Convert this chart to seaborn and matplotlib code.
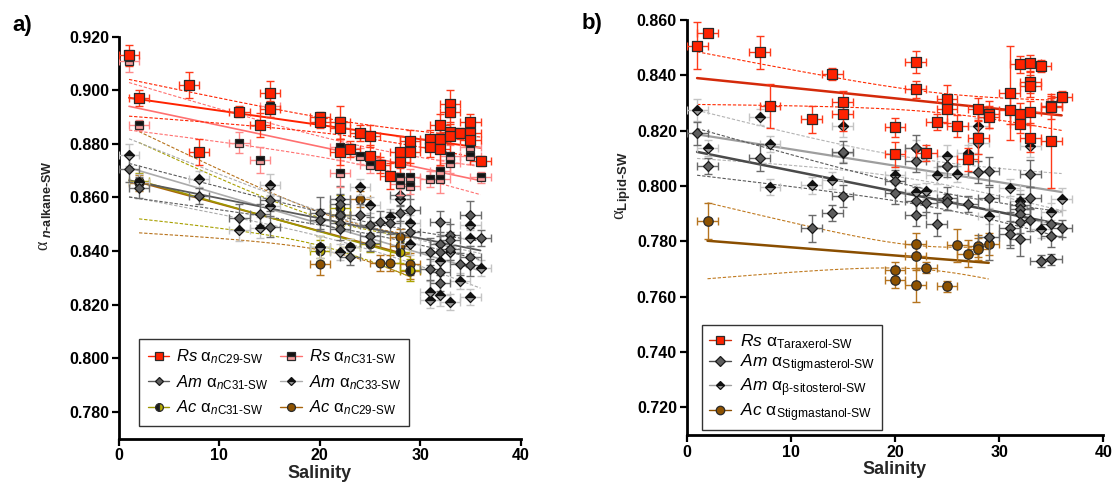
import numpy as np
import pandas as pd
import matplotlib
matplotlib.use("Agg")
import matplotlib.pyplot as plt
from matplotlib.lines import Line2D
from matplotlib.ticker import FormatStrFormatter
import seaborn as sns

# ---------------------------------------------------------------------------
# Panel a: n-alkane / water fractionation factors against salinity
# ---------------------------------------------------------------------------
rs_c29_sal = [1, 2, 7, 8, 12, 14, 15, 15, 20, 20, 22, 22, 22, 23, 24, 25, 25, 26, 27,
              28, 28, 29, 29, 31, 31, 32, 32, 32, 33, 33, 33, 33, 34, 35, 35, 35, 36]
rs_c29_val = [0.913, 0.897, 0.902, 0.877, 0.892, 0.887, 0.899, 0.893, 0.890, 0.888,
              0.888, 0.886, 0.877, 0.878, 0.884, 0.883, 0.8755, 0.872, 0.868, 0.877,
              0.8734, 0.881, 0.877, 0.882, 0.879, 0.887, 0.882, 0.878, 0.895, 0.892,
              0.8846, 0.883, 0.884, 0.888, 0.884, 0.8815, 0.8736]
rs_c29_err = [0.004, 0.003, 0.005, 0.005, 0.002, 0.0045, 0.0045, 0.003, 0.002, 0.002,
              0.006, 0.004, 0.005, 0.003, 0.003, 0.004, 0.004, 0.003, 0.005, 0.006,
              0.005, 0.004, 0.004, 0.003, 0.004, 0.004, 0.004, 0.006, 0.005, 0.004,
              0.003, 0.003, 0.002, 0.003, 0.003, 0.003, 0.002]

rs_c31_sal = [1, 2, 12, 14, 15, 22, 22, 24, 25, 28, 28, 29, 29, 31, 32, 32, 33, 33, 35, 35, 36]
rs_c31_val = [0.911, 0.887, 0.8805, 0.874, 0.894, 0.879, 0.869, 0.8756, 0.872, 0.8675,
              0.865, 0.8675, 0.8643, 0.867, 0.870, 0.8668, 0.8756, 0.873, 0.8787, 0.8756,
              0.8675]
rs_c31_err = [0.004, 0.002, 0.004, 0.005, 0.004, 0.003, 0.005, 0.003, 0.003, 0.004,
              0.004, 0.003, 0.003, 0.003, 0.004, 0.005, 0.004, 0.004, 0.003, 0.003, 0.002]

am_c31_sal = [1, 2, 8, 12, 14, 15, 15, 20, 20, 22, 22, 22, 22, 22, 23, 24, 25, 25, 25, 26,
              27, 28, 28, 29, 29, 31, 31, 32, 32, 32, 32, 32, 33, 33, 33, 34, 35, 35, 35, 36]
am_c31_val = [0.8706, 0.8637, 0.8605, 0.8525, 0.8537, 0.8591, 0.8491, 0.8543, 0.8516, 0.8593,
              0.8574, 0.8535, 0.8504, 0.8483, 0.8379, 0.8535, 0.8497, 0.8457, 0.8431, 0.8510,
              0.8504, 0.8609, 0.8543, 0.8553, 0.8472, 0.8398, 0.8332, 0.8510, 0.8426, 0.8398,
              0.8323, 0.8280, 0.8460, 0.8442, 0.8407, 0.8352, 0.8535, 0.8379, 0.8348, 0.8450]
am_c31_err = [0.005, 0.004, 0.003, 0.005, 0.004, 0.004, 0.004, 0.006, 0.004, 0.005,
              0.004, 0.004, 0.003, 0.004, 0.003, 0.004, 0.003, 0.003, 0.003, 0.004,
              0.004, 0.004, 0.003, 0.004, 0.004, 0.005, 0.004, 0.004, 0.003, 0.004,
              0.004, 0.003, 0.004, 0.003, 0.004, 0.004, 0.005, 0.004, 0.004, 0.003]

am_c33_sal = [1, 2, 8, 12, 14, 15, 15, 20, 22, 23, 24, 25, 27, 28, 29, 29, 31, 31, 32, 32,
              33, 33, 34, 35, 35, 35, 36]
am_c33_val = [0.8759, 0.8657, 0.8669, 0.8479, 0.8487, 0.8647, 0.8568, 0.8416, 0.8396, 0.8416,
              0.8640, 0.8572, 0.8526, 0.8593, 0.8504, 0.8425, 0.8249, 0.8218, 0.8363, 0.8236,
              0.8398, 0.8211, 0.8290, 0.8497, 0.8450, 0.8230, 0.8336]
am_c33_err = [0.004, 0.003, 0.003, 0.004, 0.004, 0.004, 0.004, 0.004, 0.003, 0.003,
              0.003, 0.003, 0.003, 0.004, 0.003, 0.004, 0.004, 0.003, 0.004, 0.004,
              0.003, 0.003, 0.003, 0.004, 0.003, 0.003, 0.003]

ac_c31_sal = [2, 20, 20, 22, 22, 23, 25, 28, 29]
ac_c31_val = [0.866, 0.8416, 0.8402, 0.8560, 0.8535, 0.8416, 0.8426, 0.8395, 0.8330]
ac_c31_err = [0.003, 0.004, 0.004, 0.005, 0.004, 0.003, 0.003, 0.004, 0.004]

ac_c29_sal = [2, 20, 22, 24, 26, 27, 28, 28, 29, 29]
ac_c29_val = [0.8655, 0.8351, 0.8535, 0.8594, 0.8354, 0.8354, 0.8451, 0.8420, 0.8351, 0.8327]
ac_c29_err = [0.003, 0.004, 0.004, 0.003, 0.003, 0.003, 0.003, 0.003, 0.004, 0.003]

# ---------------------------------------------------------------------------
# Panel b: sterol / triterpenol / water fractionation factors against salinity
# ---------------------------------------------------------------------------
rs_tar_sal = [1, 2, 7, 8, 12, 14, 15, 15, 20, 20, 22, 22, 23, 24, 25, 25, 26, 27, 28, 28,
              29, 29, 31, 31, 32, 32, 32, 33, 33, 33, 33, 33, 34, 35, 35, 35, 36]
rs_tar_val = [0.8507, 0.8552, 0.8483, 0.8290, 0.8241, 0.8405, 0.8305, 0.8260, 0.8212, 0.8114,
              0.8449, 0.8350, 0.8120, 0.8232, 0.8314, 0.8278, 0.8217, 0.8096, 0.8278, 0.8174,
              0.8259, 0.8250, 0.8335, 0.8276, 0.8440, 0.8260, 0.8223, 0.8443, 0.8377, 0.8362,
              0.8268, 0.8172, 0.8434, 0.8289, 0.8284, 0.8164, 0.8323]
rs_tar_err = [0.0085, 0.0015, 0.006, 0.008, 0.005, 0.002, 0.004, 0.006, 0.0035, 0.0045,
              0.004, 0.003, 0.003, 0.003, 0.005, 0.005, 0.004, 0.004, 0.004, 0.006,
              0.005, 0.004, 0.017, 0.005, 0.003, 0.004, 0.003, 0.003, 0.004, 0.004,
              0.004, 0.005, 0.002, 0.003, 0.004, 0.017, 0.002]

am_stig_sal = [1, 2, 7, 12, 14, 15, 15, 20, 20, 22, 22, 22, 22, 23, 24, 25, 25, 25, 27, 28,
               29, 29, 29, 31, 31, 32, 32, 32, 32, 32, 33, 33, 33, 34, 35, 35, 35, 36]
am_stig_val = [0.8190, 0.8072, 0.8103, 0.7847, 0.7903, 0.8124, 0.7963, 0.8019, 0.7975, 0.8136,
               0.8091, 0.7945, 0.7897, 0.7937, 0.7861, 0.8073, 0.7955, 0.7943, 0.7935, 0.8051,
               0.8055, 0.7955, 0.7814, 0.7847, 0.7825, 0.7931, 0.7918, 0.7900, 0.7870, 0.7807,
               0.8045, 0.7957, 0.7879, 0.7729, 0.7862, 0.7819, 0.7736, 0.7847]
am_stig_err = [0.004, 0.003, 0.005, 0.005, 0.003, 0.004, 0.004, 0.004, 0.004, 0.005,
               0.004, 0.005, 0.004, 0.003, 0.004, 0.004, 0.004, 0.003, 0.003, 0.004,
               0.005, 0.004, 0.008, 0.006, 0.005, 0.004, 0.004, 0.004, 0.004, 0.006,
               0.005, 0.004, 0.004, 0.002, 0.005, 0.004, 0.002, 0.003]

am_sito_sal = [1, 2, 7, 8, 8, 12, 14, 15, 15, 20, 22, 22, 23, 24, 25, 25, 26, 27, 28, 28,
               29, 31, 32, 33, 34, 35, 36]
am_sito_val = [0.8275, 0.8138, 0.8250, 0.8152, 0.7997, 0.8003, 0.8021, 0.8217, 0.8118, 0.8039,
               0.8136, 0.7979, 0.7982, 0.8039, 0.8108, 0.8072, 0.8043, 0.8118, 0.8217, 0.8156,
               0.7891, 0.7994, 0.7945, 0.8144, 0.7843, 0.7907, 0.7952]
am_sito_err = [0.004, 0.003, 0.003, 0.003, 0.003, 0.003, 0.003, 0.004, 0.003, 0.003,
               0.003, 0.003, 0.003, 0.003, 0.004, 0.003, 0.003, 0.003, 0.003, 0.004,
               0.003, 0.003, 0.004, 0.004, 0.003, 0.003, 0.004]

ac_stan_sal = [2, 20, 20, 22, 22, 22, 23, 25, 26, 27, 28, 28, 29]
ac_stan_val = [0.7873, 0.7696, 0.7660, 0.7790, 0.7746, 0.7642, 0.7704, 0.7638, 0.7786, 0.7756,
               0.7783, 0.7772, 0.7790]
ac_stan_err = [0.0065, 0.003, 0.003, 0.004, 0.005, 0.006, 0.002, 0.002, 0.006, 0.005,
               0.004, 0.004, 0.004]

SAL_ERR = 1.0   # salinity uncertainty (horizontal error bars)

# ---------------------------------------------------------------------------
sns.set_theme(style="ticks")
plt.rcParams.update({
    "font.family": ["Liberation Sans", "DejaVu Sans"],
    "mathtext.fontset": "custom",
    "mathtext.rm": "Liberation Sans:weight=normal",
    "mathtext.it": "Liberation Sans:style=italic:weight=normal",
    "mathtext.bf": "Liberation Sans:weight=bold",
    "mathtext.sf": "Liberation Serif:weight=normal",
    "mathtext.tt": "Liberation Sans:style=italic:weight=bold",
    "axes.edgecolor": "black",
    "xtick.color": "black",
    "ytick.color": "black",
    "text.color": "black",
})


def t95(df):
    """Two-sided 95 % Student-t quantile (Cornish-Fisher expansion)."""
    z = 1.959964
    return z + (z ** 3 + z) / (4 * df) + (5 * z ** 5 + 16 * z ** 3 + 3 * z) / (96 * df ** 2)


def regression_band(sal, val):
    x = np.asarray(sal, float)
    y = np.asarray(val, float)
    slope, icpt = np.polyfit(x, y, 1)
    grid = np.linspace(x.min(), x.max(), 150)
    pred = icpt + slope * grid
    n = x.size
    s = np.sqrt(np.sum((y - (icpt + slope * x)) ** 2) / (n - 2))
    se = s * np.sqrt(1.0 / n + (grid - x.mean()) ** 2 / np.sum((x - x.mean()) ** 2))
    half = t95(n - 2) * se
    return pd.DataFrame({"sal": grid, "fit": pred, "lo": pred - half, "hi": pred + half})


def draw_series(ax, sal, val, err, st, z):
    band = regression_band(sal, val)
    sns.lineplot(data=band, x="sal", y="fit", color=st["line"], linewidth=st["lw"],
                 estimator=None, sort=False, ax=ax, zorder=2)
    for col in ("lo", "hi"):
        sns.lineplot(data=band, x="sal", y=col, color=st["ci"], linewidth=0.8,
                     linestyle=(0, (3, 1.6)), estimator=None, sort=False, ax=ax, zorder=2)
    ax.errorbar(sal, val, xerr=SAL_ERR, yerr=err, fmt="none", ecolor=st["err"],
                elinewidth=1.0, capsize=2.6, capthick=1.0, zorder=z)
    if st.get("alt"):
        ax.plot(sal, val, ls="none", marker=st["marker"], ms=st["ms"], fillstyle=st["fill"],
                mfc=st["face"], mfcalt=st["alt"], mec=st["edge"], mew=0.9, zorder=z + 0.5)
    else:
        sns.scatterplot(x=sal, y=val, marker=st["marker"], s=st["s"], color=st["face"],
                        edgecolor=st["edge"], linewidth=0.9, ax=ax, zorder=z + 0.5, legend=False)


def handle(st):
    kw = dict(color=st["line"], lw=1.0, marker=st["marker"], mec=st["edge"], mew=0.9)
    if st.get("alt"):
        kw.update(ms=st["ms"] * 0.9, fillstyle=st["fill"], mfc=st["face"], mfcalt=st["alt"])
    else:
        kw.update(ms=np.sqrt(st["s"]) * 0.9, mfc=st["face"])
    return Line2D([], [], **kw)


def style_axes(ax, ylim, yticks):
    ax.set_xlim(0, 40)
    ax.set_ylim(*ylim)
    ax.set_xticks([0, 10, 20, 30, 40])
    ax.set_yticks(yticks)
    ax.yaxis.set_major_formatter(FormatStrFormatter("%.3f"))
    sns.despine(ax=ax)
    for side in ("left", "bottom"):
        ax.spines[side].set_linewidth(2.0)
        ax.spines[side].set_color("black")
    ax.tick_params(direction="out", length=5, width=1.6, labelsize=11.5, pad=2)
    for lab in ax.get_xticklabels() + ax.get_yticklabels():
        lab.set_fontweight("bold")
    ax.set_xlabel("Salinity", fontsize=13, fontweight="bold", labelpad=1)


st_rs29 = dict(line="#FF2200", ci="#FF2200", err="#FF3A1A", marker="s", s=42, face="#FF2200", edge="#2a2a2a", lw=1.4)
st_rs31 = dict(line="#FF7070", ci="#FF7070", err="#FF8A8A", marker="s", ms=6.4, fill="top", face="#111111", alt="#F59A9A", edge="#2a2a2a", lw=1.2)
st_am31 = dict(line="#5A5A5A", ci="#5A5A5A", err="#6E6E6E", marker="D", s=24, face="#5E5E5E", edge="#1a1a1a", lw=1.3)
st_am33 = dict(line="#ABABAB", ci="#ABABAB", err="#C4C4C4", marker="D", ms=4.8, fill="top", face="#111111", alt="#9A9A9A", edge="#111111", lw=1.2)
st_ac31 = dict(line="#9E9600", ci="#A8A000", err="#ABA200", marker="o", ms=6.2, fill="left", face="#1a1a1a", alt="#B8AC00", edge="#2a2a2a", lw=1.2)
st_ac29 = dict(line="#A8640C", ci="#B8731C", err="#B5741F", marker="o", s=40, face="#8E5200", edge="#2a2a2a", lw=1.3)

st_tar = dict(line="#D42A0A", ci="#FF2A00", err="#FF3A1A", marker="s", s=46, face="#FF2200", edge="#2a2a2a", lw=1.8)
st_stig = dict(line="#4A4A4A", ci="#5A5A5A", err="#6A6A6A", marker="D", s=26, face="#5E5E5E", edge="#1a1a1a", lw=1.8)
st_sito = dict(line="#9E9E9E", ci="#B4B4B4", err="#C4C4C4", marker="D", ms=5.0, fill="top", face="#111111", alt="#9A9A9A", edge="#111111", lw=1.6)
st_stan = dict(line="#8A4E00", ci="#C07A20", err="#B5741F", marker="o", s=46, face="#8E5200", edge="#2a2a2a", lw=1.8)

fig = plt.figure(figsize=(11.14, 4.87), dpi=100)
ax_a = fig.add_axes([0.1068, 0.0992, 0.3606, 0.8255])
ax_b = fig.add_axes([0.6164, 0.1068, 0.3740, 0.8520])

# ----- panel a -----
draw_series(ax_a, ac_c29_sal, ac_c29_val, ac_c29_err, st_ac29, 3)
draw_series(ax_a, ac_c31_sal, ac_c31_val, ac_c31_err, st_ac31, 3.2)
draw_series(ax_a, am_c33_sal, am_c33_val, am_c33_err, st_am33, 4)
draw_series(ax_a, am_c31_sal, am_c31_val, am_c31_err, st_am31, 4.2)
draw_series(ax_a, rs_c31_sal, rs_c31_val, rs_c31_err, st_rs31, 5)
draw_series(ax_a, rs_c29_sal, rs_c29_val, rs_c29_err, st_rs29, 5.2)
style_axes(ax_a, (0.770, 0.920), np.arange(0.78, 0.9201, 0.02))
ax_a.set_ylabel(r"$\mathsf{\alpha}_{\ \mathtt{n}\mathbf{‐alkane‐SW}}$", fontsize=13)
ax_a.yaxis.set_label_coords(-0.165, 0.58)

lab_a = [r"$\mathit{Rs}\ \mathrm{\alpha}_{\mathit{n}\mathrm{C29‐SW}}$",
         r"$\mathit{Am}\ \mathrm{\alpha}_{\mathit{n}\mathrm{C31‐SW}}$",
         r"$\mathit{Ac}\ \mathrm{\alpha}_{\mathit{n}\mathrm{C31‐SW}}$",
         r"$\mathit{Rs}\ \mathrm{\alpha}_{\mathit{n}\mathrm{C31‐SW}}$",
         r"$\mathit{Am}\ \mathrm{\alpha}_{\mathit{n}\mathrm{C33‐SW}}$",
         r"$\mathit{Ac}\ \mathrm{\alpha}_{\mathit{n}\mathrm{C29‐SW}}$"]
hnd_a = [handle(s) for s in (st_rs29, st_am31, st_ac31, st_rs31, st_am33, st_ac29)]
leg_a = ax_a.legend(hnd_a, lab_a, loc="lower left", bbox_to_anchor=(0.03, 0.012), ncol=2,
                    fontsize=12, frameon=True, fancybox=False, framealpha=1,
                    edgecolor="#333333", handlelength=1.3, handletextpad=0.4,
                    columnspacing=0.7, labelspacing=0.4, borderpad=0.5)
leg_a.get_frame().set_linewidth(1.0)

# ----- panel b -----
draw_series(ax_b, ac_stan_sal, ac_stan_val, ac_stan_err, st_stan, 3)
draw_series(ax_b, am_sito_sal, am_sito_val, am_sito_err, st_sito, 4)
draw_series(ax_b, am_stig_sal, am_stig_val, am_stig_err, st_stig, 4.2)
draw_series(ax_b, rs_tar_sal, rs_tar_val, rs_tar_err, st_tar, 5)
style_axes(ax_b, (0.710, 0.860), np.arange(0.72, 0.8601, 0.02))
ax_b.set_ylabel(r"$\mathsf{\alpha}_{\mathbf{Lipid‐SW}}$", fontsize=13.5)
ax_b.yaxis.set_label_coords(-0.13, 0.6)

lab_b = [r"$\mathit{Rs}\ \mathrm{\alpha}_{\mathrm{Taraxerol‐SW}}$",
         r"$\mathit{Am}\ \mathrm{\alpha}_{\mathrm{Stigmasterol‐SW}}$",
         r"$\mathit{Am}\ \mathrm{\alpha}_{\mathrm{\beta‐sitosterol‐SW}}$",
         r"$\mathit{Ac}\ \mathrm{\alpha}_{\mathrm{Stigmastanol‐SW}}$"]
hnd_b = [handle(s) for s in (st_tar, st_stig, st_sito, st_stan)]
leg_b = ax_b.legend(hnd_b, lab_b, loc="lower left", bbox_to_anchor=(0.015, -0.01), ncol=1,
                    fontsize=12.5, frameon=True, fancybox=False, framealpha=1,
                    edgecolor="#333333", handlelength=1.3, handletextpad=0.5,
                    labelspacing=0.1, borderpad=0.4)
leg_b.get_frame().set_linewidth(1.0)

fig.text(12 / 1114, 1 - 26 / 487, "a)", fontsize=16, fontweight="bold", ha="left", va="center")
fig.text(582 / 1114, 1 - 24 / 487, "b)", fontsize=16, fontweight="bold", ha="left", va="center")

fig.savefig("out.png", dpi=100)
